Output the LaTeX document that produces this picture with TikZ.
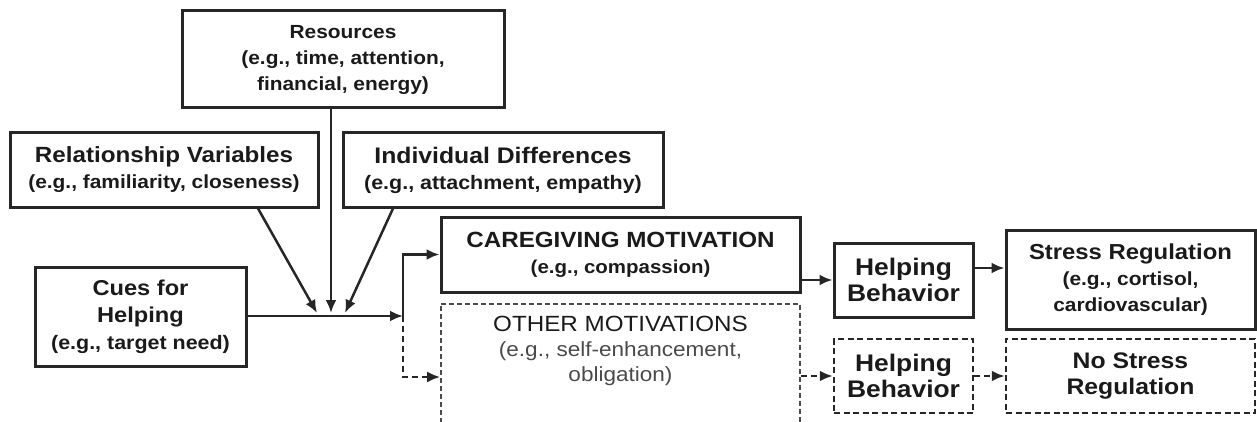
\documentclass[tikz,border=0pt]{standalone}
\usepackage{fontspec}
\setmainfont{Liberation Sans}[FakeStretch=1.1]
\usetikzlibrary{arrows.meta}

\definecolor{ink}{HTML}{1A1A1A}
\definecolor{lineink}{HTML}{262626}
\definecolor{softink}{HTML}{4A4A4A}

% larger first lines in the boxes
\newcommand{\hd}[2][22]{{\fontsize{#1}{26}\selectfont #2}}

\tikzset{
  box/.style={draw=lineink, line width=3pt, align=center, inner sep=2pt,
    text=ink, font=\bfseries\fontsize{19}{26}\selectfont},
  dbox/.style={box, line width=2.5pt, dash pattern=on 6pt off 3.5pt},
  link/.style={draw=lineink, line width=2.8pt, -{Latex[length=13pt,width=11pt]}},
  dlink/.style={link, dash pattern=on 6pt off 4pt},
}

\begin{document}
\begin{tikzpicture}[x=1pt,y=-1pt]
   \useasboundingbox (0,0) rectangle (1257,422);

   \node (res) [box, minimum width=322pt, minimum height=97pt] at (343,59.5)
     {\hd[19]{Resources}\\(e.g., time, attention,\\financial, energy)};
   \node (rel) [box, minimum width=308pt, minimum height=74pt] at (164,170)
     {\hd{Relationship Variables}\\(e.g., familiarity, closeness)};
   \node (ind) [box, minimum width=320pt, minimum height=74pt] at (503,170)
     {\hd[22.5]{Individual Differences}\\\hd[19.5]{(e.g., attachment, empathy)}};
   \node (cues) [box, minimum width=211pt, minimum height=99pt,
     font=\bfseries\fontsize{19.5}{27}\selectfont] at (140.5,316.5)
     {\hd[21.5]{Cues for}\\\hd[21.5]{Helping}\\(e.g., target need)};
   \node (care) [box, minimum width=359pt, minimum height=75pt] at (620.5,254.5)
     {\hd{CAREGIVING MOTIVATION}\\\hd[18.6]{(e.g., compassion)}};
   \node (other) [draw=softink, line width=1.6pt, dash pattern=on 5pt off 3pt,
     align=center, anchor=north, minimum width=359pt, inner ysep=12pt,
     text depth=110pt, font=\fontsize{20.5}{25}\selectfont, text=softink]
     at (620.5,303)
     {{\color{ink}\fontsize{22}{25}\selectfont OTHER MOTIVATIONS}\\(e.g., self-enhancement,\\obligation)};

   \node (help1) [box, minimum width=139pt, minimum height=74pt,
     font=\bfseries\fontsize{24}{26}\selectfont] at (903.5,280) {Helping\\Behavior};
   \node (stress) [box, minimum width=249pt, minimum height=99pt,
     right of=help1, node distance=227pt]
     {\hd[21.7]{Stress Regulation}\\(e.g., cortisol,\\cardiovascular)};
   \node (help2) [dbox, minimum width=139pt, minimum height=74pt,
     font=\bfseries\fontsize{24}{26}\selectfont,
     below of=help1, node distance=96pt] {Helping\\Behavior};
   \node (nostress) [dbox, minimum width=249pt, minimum height=74pt,
     font=\bfseries\fontsize{22.5}{26}\selectfont,
     right of=help2, node distance=227pt] {No Stress\\Regulation};

   \coordinate (split) at (403,316);
   \coordinate (lowrow) at (403,377);
   \coordinate (in1) at (317,313);
   \coordinate (in2) at (331,313);
   \coordinate (in3) at (345,313);

   \draw[link] (cues.east |- split) -- (split);
   \draw[link, line width=2.5pt] ([xshift=94pt]rel.south) -- (in1);
   \draw[link, line width=2.5pt] ([xshift=-12pt]res.south) -- (in2);
   \draw[link, line width=2.5pt] ([xshift=-110pt]ind.south) -- (in3);

   \draw[link] (split) |- (care.west);
   \draw[dlink] (split) |- (other.west |- lowrow);
   \draw[link] (care.east |- help1.west) -- (help1.west);
   \draw[link] ([yshift=12pt]help1.east) -- ([yshift=12pt]stress.west);
   \draw[dlink] (other.east |- help2.west) -- (help2.west);
   \draw[dlink] (help2.east) -- (nostress.west);
\end{tikzpicture}
\end{document}
